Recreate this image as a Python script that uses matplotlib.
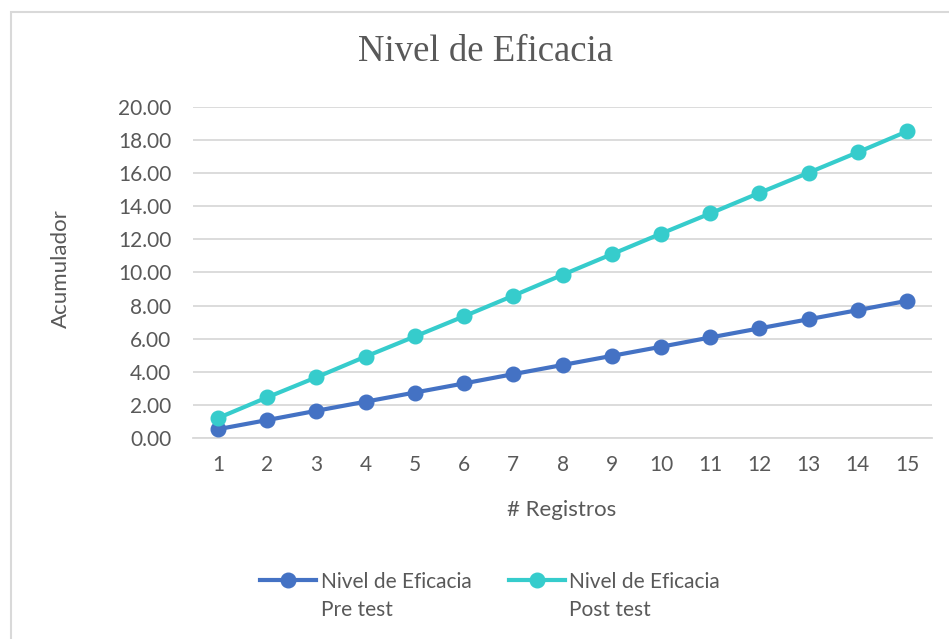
import matplotlib
matplotlib.use("Agg")
import matplotlib.pyplot as plt
from matplotlib.patches import Rectangle

# data
registros = list(range(1, 16))
pre_test = [0.55, 1.10, 1.66, 2.21, 2.76, 3.31, 3.87, 4.42, 4.97, 5.52, 6.08, 6.63, 7.18, 7.73, 8.29]
post_test = [1.22, 2.47, 3.68, 4.93, 6.14, 7.36, 8.60, 9.86, 11.10, 12.34, 13.56, 14.80, 16.02, 17.25, 18.51]
y_ticks = [0, 2, 4, 6, 8, 10, 12, 14, 16, 18, 20]

txt = "#595959"
grid = "#d9d9d9"
c_pre = "#4472C4"
c_post = "#36CCCC"

plt.rcParams['font.family'] = ['Lato', 'DejaVu Sans']

W, H = 949, 639
fig = plt.figure(figsize=(W / 100, H / 100), dpi=100)
ax = fig.add_axes([193.4 / W, 1 - 438.3 / H, (931.6 - 193.4) / W, (438.3 - 106.7) / H])

# outer chart border (runs off the right and bottom of the image)
fig.patches.append(Rectangle((10.5 / W, -0.1), 1.2, (H - 11.5) / H + 0.1,
                             transform=fig.transFigure, fill=False,
                             edgecolor=grid, lw=1.5, clip_on=False))

ax.plot(registros, pre_test, color=c_pre, lw=3, marker='o', markersize=10.5,
        label="Nivel de Eficacia\nPre test", zorder=3)
ax.plot(registros, post_test, color=c_post, lw=3, marker='o', markersize=10.5,
        label="Nivel de Eficacia\nPost test", zorder=3)

ax.set_xlim(0.5, 15.5)
ax.set_ylim(0, 20)
ax.set_xticks(registros)
ax.set_yticks(y_ticks)
ax.set_yticklabels([f"{v:.2f}" for v in y_ticks])
ax.yaxis.grid(True, color=grid, lw=1.3)
ax.set_axisbelow(True)
for s in ['top', 'right', 'left']:
    ax.spines[s].set_visible(False)
ax.spines['bottom'].set_color(grid)
ax.spines['bottom'].set_linewidth(1.3)
ax.tick_params(axis='both', length=0, labelsize=15, labelcolor=txt)
ax.tick_params(axis='y', pad=16)
ax.tick_params(axis='x', pad=12)

fig.text(486 / W, 1 - 52 / H, "Nivel de Eficacia", family='Liberation Serif',
         fontsize=26.5, color=txt, ha='center', va='center')
fig.text(61 / W, 1 - 269 / H, "Acumulador", fontsize=16, color=txt,
         rotation=90, ha='center', va='center')
fig.text(562 / W, 1 - 510 / H, "# Registros", fontsize=16, color=txt,
         ha='center', va='center')

leg = fig.legend(loc='center', bbox_to_anchor=(490 / W, 1 - 596 / H), ncol=2,
                 frameon=False, fontsize=15, labelcolor=txt, handlelength=2.7,
                 handletextpad=0.2, columnspacing=1.8)
for t in leg.get_texts():
    t.set_linespacing(1.45)
# put the marker next to the first line of the label, like Excel does
for col in leg._legend_handle_box.get_children():
    for row in col.get_children():
        row.align = "top"

fig.savefig("out.png", dpi=100)
